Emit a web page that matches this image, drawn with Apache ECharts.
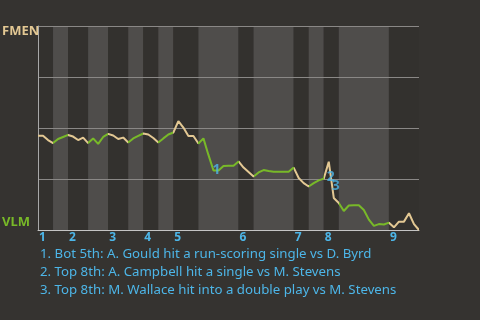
<!DOCTYPE html>
<html><head><meta charset="utf-8">
<script src="https://cdn.jsdelivr.net/npm/echarts@6/dist/echarts.min.js"></script>
<style>html,body{margin:0;padding:0;background:#353330;}#c{width:480px;height:320px;}</style>
</head><body><div id="c"></div>
<script>
// ---- data ----
const teamLabels = ['FMEN', 'VLM'];
const inningNumbers = ['1','2','3','4','5','6','7','8','9'];
// win probability of FMEN after each play (0 = VLM wins, 1 = FMEN wins)
const winProb = [
  0.462,0.462,0.441,0.426,0.446,0.456,0.466,0.458,0.441,0.453,
  0.426,0.449,0.422,0.456,0.471,0.463,0.446,0.453,0.429,0.449,
  0.461,0.473,0.468,0.451,0.429,0.449,0.468,0.478,0.534,0.502,
  0.461,0.461,0.424,0.449,0.368,0.292,0.292,0.314,0.315,0.315,
  0.336,0.306,0.284,0.262,0.282,0.294,0.289,0.286,0.286,0.286,
  0.286,0.306,0.255,0.230,0.213,0.230,0.243,0.252,0.335,0.157,
  0.132,0.093,0.120,0.121,0.121,0.098,0.051,0.020,0.029,0.027,
  0.036,0.013,0.041,0.041,0.082,0.029,0.000
];
// play index where each half inning begins (last = end of game)
const halfInningBounds = [0,3,6,10,14,18,21,24,27,32,40,43,51,54,57,60,70,76];
const eventPlays = [35.6, 58.4, 59.4];
const eventProbs = [0.294, 0.261, 0.216];
const eventIds = ['1','2','3'];
const eventTexts = [
  '1. Bot 5th: A. Gould hit a run-scoring single vs D. Byrd',
  '2. Top 8th: A. Campbell hit a single vs M. Stevens',
  '3. Top 8th: M. Wallace hit into a double play vs M. Stevens'
];

// ---- style ----
const BG = '#353330', BAND_DARK = '#33312e', BAND_LIGHT = '#4f4d4b';
const AWAY = '#e3c893', HOME = '#78b928', BLUE = '#4db6e8';

const inningStarts = halfInningBounds.filter((b, i) => i % 2 === 0 && i < halfInningBounds.length - 1);
const bands = [];
const pieces = [];
for (let i = 0; i < halfInningBounds.length - 1; i++) {
  bands.push([{xAxis: halfInningBounds[i], itemStyle: {color: i % 2 ? BAND_LIGHT : BAND_DARK}},
              {xAxis: halfInningBounds[i + 1]}]);
  const p = {gte: halfInningBounds[i], color: i % 2 ? HOME : AWAY};
  if (i < halfInningBounds.length - 2) p.lt = halfInningBounds[i + 1]; else p.lte = halfInningBounds[i + 1];
  pieces.push(p);
}

const chart = echarts.init(document.getElementById('c'), null, {renderer: 'canvas'});
chart.setOption({
  backgroundColor: BG,
  animation: false,
  grid: {left: 38, right: 61, top: 26, bottom: 90},
  xAxis: {
    type: 'value', min: 0, max: halfInningBounds[halfInningBounds.length - 1], z: 1,
    axisLine: {show: true, lineStyle: {color: '#c4c4c4', width: 1}},
    axisTick: {show: false},
    splitLine: {show: false},
    axisLabel: {
      customValues: inningStarts,
      formatter: v => inningNumbers[inningStarts.indexOf(v)],
      color: BLUE, fontWeight: 'bold', fontSize: 12, fontFamily: 'Noto Sans',
      align: 'left', margin: 2, padding: [0, 0, 0, 1]
    }
  },
  yAxis: {
    type: 'value', min: 0, max: 1, interval: 0.25, z: 1,
    axisLine: {show: true, lineStyle: {color: '#a8a8a8', width: 1}},
    axisTick: {show: false},
    axisLabel: {show: false},
    splitLine: {show: true, lineStyle: {color: '#8a8886', width: 1}}
  },
  visualMap: {show: false, type: 'piecewise', dimension: 0, seriesIndex: 1, pieces: pieces},
  series: [
    {type: 'line', data: [], z: 0, silent: true, markArea: {silent: true, z: 0, data: bands}},
    {type: 'line', z: 3, data: winProb.map((v, i) => [i, v]), showSymbol: false, symbol: 'none',
     lineStyle: {width: 2}},
    {type: 'scatter', z: 5, symbolSize: 1, itemStyle: {color: 'rgba(0,0,0,0)'},
     data: eventPlays.map((x, i) => [x, eventProbs[i], eventIds[i]]),
     label: {show: true, position: 'inside', formatter: p => p.value[2],
             color: BLUE, fontWeight: 'bold', fontSize: 14, fontFamily: 'Noto Sans'}}
  ],
  graphic: [
    {type: 'text', left: 2, top: 25, style: {text: teamLabels[0], fill: AWAY, font: 'bold 13px "Noto Sans"'}},
    {type: 'text', left: 2, top: 216, style: {text: teamLabels[1], fill: HOME, font: 'bold 13px "Noto Sans"'}},
    ...eventTexts.map((t, i) => ({type: 'text', left: 40, top: 248 + i * 18,
      style: {text: t, fill: BLUE, font: '13.25px "Noto Sans"'}}))
  ]
});
</script></body></html>
